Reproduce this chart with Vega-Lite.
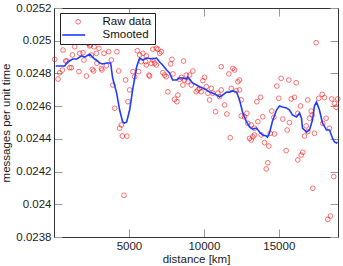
{
 "$schema": "https://vega.github.io/schema/vega-lite/v6.json",
 "width": 284, "height": 229,
 "autosize": {"type": "none"},
 "padding": {"left": 54, "top": 8, "right": 5, "bottom": 29},
 "background": "white",
 "config": {"font": "Liberation Sans", "view": {"stroke": null},
  "axis": {"grid": false, "domainColor": "#333", "domainWidth": 1, "tickColor": "#999", "tickSize": -8, "labelPadding": 11, "labelFontSize": 11.5, "labelColor": "#222", "titleFontSize": 11.5, "titleFontWeight": "normal", "titleColor": "#222"}},
 "datasets": {
  "raw": [
   {"distance":47,"rate":0.024886},{"distance":267,"rate":0.024766},{"distance":380,"rate":0.024804},{"distance":560,"rate":0.024821},{"distance":600,"rate":0.024943},{"distance":780,"rate":0.024876},{"distance":867,"rate":0.024876},{"distance":1047,"rate":0.024835},{"distance":1160,"rate":0.024835},{"distance":1227,"rate":0.024913},{"distance":1380,"rate":0.024963},{"distance":1667,"rate":0.024811},{"distance":1713,"rate":0.024923},{"distance":1933,"rate":0.024927},{"distance":2000,"rate":0.024882},{"distance":2160,"rate":0.024784},{"distance":2267,"rate":0.024984},{"distance":2380,"rate":0.024968},{"distance":2427,"rate":0.024974},{"distance":2493,"rate":0.024913},{"distance":2560,"rate":0.024825},{"distance":2647,"rate":0.024815},{"distance":2667,"rate":0.024963},{"distance":2827,"rate":0.024923},{"distance":2867,"rate":0.024862},{"distance":3000,"rate":0.024954},{"distance":3160,"rate":0.024831},{"distance":3200,"rate":0.024821},{"distance":3333,"rate":0.024923},{"distance":3493,"rate":0.024847},{"distance":3647,"rate":0.024933},{"distance":3827,"rate":0.024882},{"distance":3933,"rate":0.024729},{"distance":4047,"rate":0.024587},{"distance":4200,"rate":0.024933},{"distance":4313,"rate":0.024815},{"distance":4380,"rate":0.024465},{"distance":4493,"rate":0.024485},{"distance":4560,"rate":0.024417},{"distance":4867,"rate":0.024417},{"distance":4667,"rate":0.024055},{"distance":4780,"rate":0.02476},{"distance":4933,"rate":0.024627},{"distance":5047,"rate":0.024699},{"distance":5267,"rate":0.024811},{"distance":5380,"rate":0.02478},{"distance":5560,"rate":0.024939},{"distance":5647,"rate":0.025},{"distance":5647,"rate":0.024811},{"distance":5713,"rate":0.024913},{"distance":5933,"rate":0.024923},{"distance":6160,"rate":0.024907},{"distance":6113,"rate":0.024872},{"distance":6333,"rate":0.02479},
   {"distance":5827,"rate":0.024872},{"distance":6160,"rate":0.024852},{"distance":6380,"rate":0.024784},{"distance":6493,"rate":0.024862},{"distance":6600,"rate":0.024882},{"distance":6713,"rate":0.024862},{"distance":6827,"rate":0.024852},{"distance":6600,"rate":0.024948},{"distance":6827,"rate":0.024954},{"distance":6933,"rate":0.024948},{"distance":7160,"rate":0.024933},{"distance":7047,"rate":0.024923},{"distance":7267,"rate":0.024804},{"distance":7380,"rate":0.02479},{"distance":7493,"rate":0.02478},{"distance":7600,"rate":0.024688},{"distance":7780,"rate":0.024858},{"distance":7867,"rate":0.024886},{"distance":7933,"rate":0.024797},{"distance":8047,"rate":0.024642},{"distance":8200,"rate":0.024627},{"distance":8267,"rate":0.024668},{"distance":8380,"rate":0.024764},{"distance":8493,"rate":0.024776},{"distance":8600,"rate":0.024729},{"distance":8713,"rate":0.02476},{"distance":8827,"rate":0.02479},{"distance":9047,"rate":0.02479},{"distance":9267,"rate":0.024815},{"distance":8647,"rate":0.024876},{"distance":8933,"rate":0.024749},{"distance":9160,"rate":0.024729},{"distance":9493,"rate":0.024688},{"distance":9600,"rate":0.024699},{"distance":9713,"rate":0.024709},{"distance":9827,"rate":0.024688},{"distance":9933,"rate":0.024756},{"distance":10047,"rate":0.024776},{"distance":10160,"rate":0.024719},{"distance":10267,"rate":0.024679},{"distance":10380,"rate":0.024638},{"distance":10493,"rate":0.024709},{"distance":10600,"rate":0.024679},{"distance":10780,"rate":0.024566},{"distance":10933,"rate":0.024679},{"distance":11047,"rate":0.024658},{"distance":11160,"rate":0.024699},{"distance":11160,"rate":0.024841},{"distance":11380,"rate":0.024607},{"distance":11533,"rate":0.024552},{"distance":11667,"rate":0.024797},{"distance":11933,"rate":0.024831},{"distance":12047,"rate":0.024821},{"distance":11827,"rate":0.024709},{"distance":12160,"rate":0.024694},{"distance":12267,"rate":0.024749},{"distance":11760,"rate":0.024407},
   {"distance":12380,"rate":0.02476},{"distance":12380,"rate":0.024699},{"distance":12493,"rate":0.024638},{"distance":12493,"rate":0.02454},{"distance":12713,"rate":0.024535},{"distance":12867,"rate":0.024556},{"distance":12933,"rate":0.024495},{"distance":13160,"rate":0.024485},{"distance":13380,"rate":0.024465},{"distance":13600,"rate":0.024505},{"distance":13047,"rate":0.024403},{"distance":13160,"rate":0.024393},{"distance":13267,"rate":0.024413},{"distance":13380,"rate":0.024424},{"distance":13533,"rate":0.024627},{"distance":13780,"rate":0.024654},{"distance":13827,"rate":0.024424},{"distance":13933,"rate":0.024535},{"distance":14047,"rate":0.024377},{"distance":14333,"rate":0.024356},{"distance":14267,"rate":0.024254},{"distance":14160,"rate":0.024216},{"distance":14427,"rate":0.024434},{"distance":14533,"rate":0.02457},{"distance":14667,"rate":0.024532},{"distance":14713,"rate":0.02443},{"distance":14867,"rate":0.024723},{"distance":15000,"rate":0.024648},{"distance":15160,"rate":0.02477},{"distance":15267,"rate":0.024521},{"distance":15493,"rate":0.024328},{"distance":15560,"rate":0.024454},{"distance":15667,"rate":0.02476},{"distance":15713,"rate":0.024499},{"distance":15827,"rate":0.024644},{"distance":16047,"rate":0.024654},{"distance":16160,"rate":0.024743},{"distance":16267,"rate":0.024556},{"distance":16267,"rate":0.024271},{"distance":16447,"rate":0.024601},{"distance":16493,"rate":0.024301},{"distance":16600,"rate":0.024318},{"distance":16713,"rate":0.024417},{"distance":16827,"rate":0.024479},{"distance":16933,"rate":0.024638},{"distance":16933,"rate":0.024444},{"distance":17047,"rate":0.024526},{"distance":17160,"rate":0.02457},{"distance":17227,"rate":0.024546},{"distance":17267,"rate":0.024098},{"distance":17380,"rate":0.024434},{"distance":17493,"rate":0.024988},{"distance":17667,"rate":0.024648},{"distance":17893,"rate":0.024672},{"distance":17933,"rate":0.024495},{"distance":18047,"rate":0.024652},{"distance":18160,"rate":0.024526},{"distance":18267,"rate":0.023908},{"distance":18380,"rate":0.024465},{"distance":18447,"rate":0.023928},{"distance":18533,"rate":0.024644},{"distance":18667,"rate":0.024169},{"distance":18713,"rate":0.024617},{"distance":18827,"rate":0.024593},{"distance":18933,"rate":0.024644}
  ],
  "smooth": [
   {"distance":113,"rate":0.024845},{"distance":380,"rate":0.024845},{"distance":713,"rate":0.024845},{"distance":913,"rate":0.02487},{"distance":1247,"rate":0.024888},{"distance":1513,"rate":0.024888},{"distance":1847,"rate":0.024907},{"distance":2047,"rate":0.0249},{"distance":2380,"rate":0.024919},{"distance":2580,"rate":0.0249},{"distance":2713,"rate":0.024888},{"distance":2913,"rate":0.024876},{"distance":3047,"rate":0.024864},{"distance":3247,"rate":0.024858},{"distance":3513,"rate":0.024864},{"distance":3780,"rate":0.024864},{"distance":3913,"rate":0.024772},{"distance":4180,"rate":0.02468},{"distance":4380,"rate":0.024576},{"distance":4580,"rate":0.024503},{"distance":4713,"rate":0.024497},{"distance":4847,"rate":0.024503},{"distance":5047,"rate":0.024576},{"distance":5247,"rate":0.024699},{"distance":5513,"rate":0.024839},{"distance":5713,"rate":0.024894},{"distance":5913,"rate":0.024882},{"distance":6180,"rate":0.024894},{"distance":6580,"rate":0.024888},{"distance":6847,"rate":0.024894},{"distance":7047,"rate":0.02487},{"distance":7247,"rate":0.024852},{"distance":7513,"rate":0.024821},{"distance":7713,"rate":0.024803},{"distance":7913,"rate":0.02476},{"distance":8180,"rate":0.02476},{"distance":8380,"rate":0.024772},{"distance":8580,"rate":0.024772},{"distance":8847,"rate":0.024766},{"distance":8913,"rate":0.024778},{"distance":9047,"rate":0.024766},{"distance":9247,"rate":0.024742},{"distance":9513,"rate":0.024729},{"distance":9713,"rate":0.024717},{"distance":9913,"rate":0.024711},{"distance":10180,"rate":0.024699},{"distance":10380,"rate":0.024686},{"distance":10580,"rate":0.02468},{"distance":10847,"rate":0.024668},{"distance":11047,"rate":0.024656},{"distance":11247,"rate":0.024668},{"distance":11513,"rate":0.024686},{"distance":11713,"rate":0.024686},{"distance":11913,"rate":0.024693},{"distance":12180,"rate":0.024686},{"distance":12380,"rate":0.024638},{"distance":12580,"rate":0.024564},{"distance":12847,"rate":0.024503},{"distance":13047,"rate":0.024473},{"distance":13247,"rate":0.02446},{"distance":13513,"rate":0.024466},{"distance":13713,"rate":0.024442},{"distance":13913,"rate":0.024424},{"distance":14180,"rate":0.024417},{"distance":14247,"rate":0.024411},{"distance":14380,"rate":0.024436},{"distance":14580,"rate":0.024509},{"distance":14847,"rate":0.024576},{"distance":15047,"rate":0.024601},{"distance":15247,"rate":0.024595},{"distance":15513,"rate":0.024589},{"distance":15713,"rate":0.024576},{"distance":15913,"rate":0.024546},{"distance":16180,"rate":0.024534},{"distance":16380,"rate":0.024558},{"distance":16513,"rate":0.024527},{"distance":16580,"rate":0.024466},{"distance":16847,"rate":0.024442},{"distance":17047,"rate":0.024454},{"distance":17247,"rate":0.024515},{"distance":17380,"rate":0.024601},{"distance":17513,"rate":0.024625},{"distance":17713,"rate":0.024576},{"distance":17913,"rate":0.024497},{"distance":18180,"rate":0.024454},{"distance":18380,"rate":0.024454},{"distance":18580,"rate":0.024405},{"distance":18713,"rate":0.024381},{"distance":18847,"rate":0.024375},{"distance":18913,"rate":0.024381}
  ]
 },
 "layer": [
  {"data": {"name": "raw"},
   "mark": {"type": "point", "shape": "circle", "filled": false, "size": 22, "strokeWidth": 0.8},
   "encoding": {
    "x": {"field": "distance", "type": "quantitative", "scale": {"domain": [0, 18950], "nice": false, "zero": false},
          "axis": {"orient": "bottom", "values": [5000, 10000, 15000], "format": "d", "title": "distance [km]", "titlePadding": 2}},
    "y": {"field": "rate", "type": "quantitative", "scale": {"domain": [0.0238, 0.0252], "nice": false, "zero": false},
          "axis": {"orient": "left", "values": [0.0238, 0.024, 0.0242, 0.0244, 0.0246, 0.0248, 0.025, 0.0252], "format": "~g", "title": "messages per unit time", "titlePadding": 4}},
    "color": {"datum": "Raw data", "type": "nominal",
              "scale": {"domain": ["Raw data", "Smooted"], "range": ["#ff0000", "transparent"]},
              "legend": {"orient": "none", "legendX": 6, "legendY": 5, "title": null, "fillColor": "white", "strokeColor": "#222",
                         "padding": 3, "labelFontSize": 11.5, "labelColor": "#111", "symbolType": "circle", "symbolSize": 22, "symbolStrokeWidth": 0.8,
                         "symbolOffset": 9.4, "rowPadding": 0.5, "labelOffset": 18.6}}
   }},
  {"data": {"name": "smooth"},
   "mark": {"type": "line", "strokeWidth": 1.6},
   "encoding": {
    "x": {"field": "distance", "type": "quantitative", "axis": {"orient": "top", "values": [5000, 10000, 15000], "labels": false, "title": null}},
    "y": {"field": "rate", "type": "quantitative", "axis": {"orient": "right", "values": [0.0238, 0.024, 0.0242, 0.0244, 0.0246, 0.0248, 0.025, 0.0252], "labels": false, "title": null}},
    "stroke": {"datum": "Smooted", "type": "nominal",
               "scale": {"domain": ["Smooted"], "range": ["#1f3cff"]},
               "legend": {"orient": "none", "legendX": 7.2, "legendY": 14.5, "title": null, "padding": 0, "labelExpr": "''",
                          "symbolType": "stroke", "symbolSize": 529, "symbolStrokeWidth": 1.6, "labelFontSize": 1}}
   }}
 ],
 "resolve": {"axis": {"x": "independent", "y": "independent"}}
}
